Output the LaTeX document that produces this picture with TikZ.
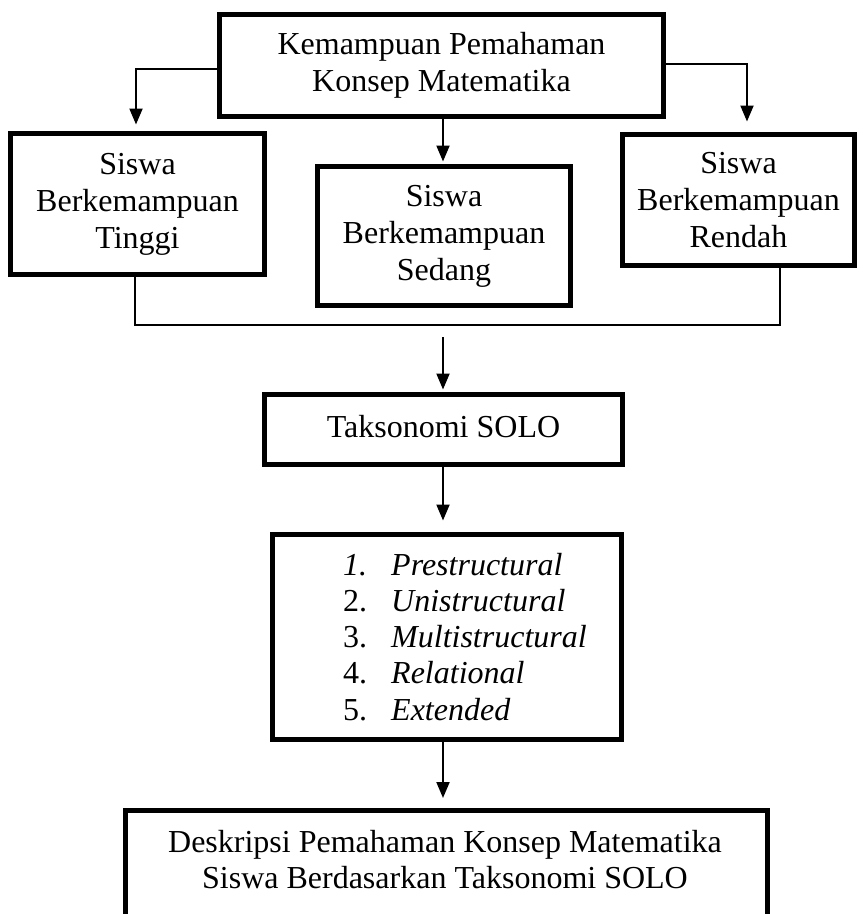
\documentclass[tikz,border=0pt]{standalone}
\usepackage{fontspec}
\setmainfont{Liberation Serif}
\usetikzlibrary{arrows.meta}
\begin{document}
\begin{tikzpicture}[x=1pt,y=-1pt,
  box/.style={draw, line width=5pt, align=center, inner sep=0pt,
    font=\fontsize{32}{37}\selectfont},
  conn/.style={line width=2pt},
  arr/.style={line width=2pt, -{Triangle[length=16pt,width=13pt]}},
  txt/.style={inner sep=0pt, align=center, font=\fontsize{32}{36}\selectfont}]
\useasboundingbox (0,0) rectangle (864,914);
% boxes
\node[box, minimum width=444pt, minimum height=102pt] (top) at (441.5,65.5)
  {Kemampuan Pemahaman\\Konsep Matematika};
\node[box, minimum width=254pt, minimum height=141pt] (tinggi) at (137.5,204)
  {Siswa\\Berkemampuan\\Tinggi};
\node[box, minimum width=253pt, minimum height=139pt] (sedang) at (444,236)
  {Siswa\\Berkemampuan\\Sedang};
\node[box, minimum width=232pt, minimum height=131pt] (rendah) at (738.5,200)
  {Siswa\\Berkemampuan\\Rendah};
\node[box, minimum width=358pt, minimum height=70pt, text height=22pt, text depth=7pt]
  (taks) at (443.5,429.5) {Taksonomi SOLO};
\node[box, minimum width=349pt, minimum height=205pt] (list) at (447,637) {};
\node[inner sep=0pt, anchor=base west, font=\fontsize{32}{36.25}\selectfont] (items) at (343,575)
  {\begin{tabular}[t]{@{}p{48pt}@{}l@{}}
   \textit{1.} & \textit{Prestructural}\\
   2. & \textit{Unistructural}\\
   3. & \textit{Multistructural}\\
   4. & \textit{Relational}\\
   5. & \textit{Extended}
   \end{tabular}};
% bottom box (cut off at the lower edge)
\draw[line width=5pt] (125.5,930) -- (125.5,810.5) -- (767.5,810.5) -- (767.5,930);
\node[txt] (desc) at (445,860)
  {Deskripsi Pemahaman Konsep Matematika\\Siswa Berdasarkan Taksonomi SOLO};
% connectors
\coordinate (jl) at (135,325);
\coordinate (jr) at (780,325);
\coordinate (jc) at (443,337);
\coordinate (desctop) at (443,798);
\draw[arr] ([yshift=-3.5pt]top.west) -| ([xshift=-1.5pt,yshift=6.5pt]tinggi.north);
\draw[arr] ([yshift=1.5pt]top.east) -| ([xshift=8.5pt,yshift=10.5pt]rendah.north);
\draw[arr] (jc |- top.south) -- ([yshift=2.5pt]jc |- sedang.north);
\draw[conn] (jl |- tinggi.south) -- (jl) -- (jr) -- (jr |- rendah.south);
\draw[arr] (jc) -- ([yshift=2.5pt]jc |- taks.north);
\draw[arr] (jc |- taks.south) -- ([yshift=11.5pt]jc |- list.north);
\draw[arr] (jc |- list.south) -- (desctop);
\end{tikzpicture}
\end{document}
